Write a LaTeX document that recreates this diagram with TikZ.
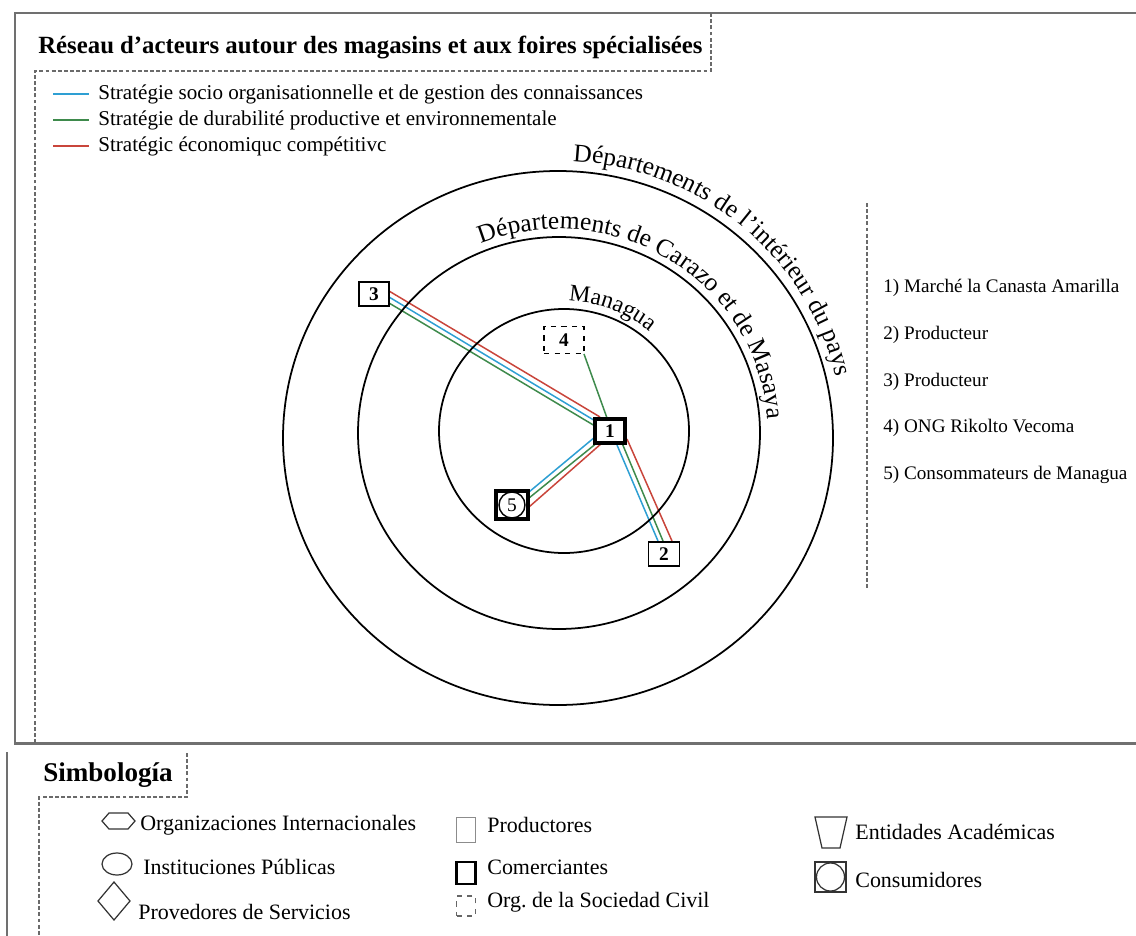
\documentclass[tikz,border=0pt]{standalone}
\usepackage{fontspec}
\setmainfont{Liberation Serif}
\usetikzlibrary{decorations.text,backgrounds}
\definecolor{sblue}{HTML}{2E9FD3}
\definecolor{sgreen}{HTML}{3E8A4C}
\definecolor{sred}{HTML}{C9453B}
\definecolor{framegray}{HTML}{707070}
\definecolor{dashgray}{HTML}{6A6A6A}
\frenchspacing
\begin{document}
\begin{tikzpicture}[x=0.02cm,y=-0.02cm,
  frame/.style={draw=framegray, line width=1.7pt},
  dashline/.style={draw=dashgray, line width=1pt, dash pattern=on 2.2pt off 1.3pt},
  ring/.style={draw=black, line width=1pt},
  box/.style={draw=black, fill=white, inner sep=0pt, line width=0.8pt, minimum width=0.6cm, minimum height=0.48cm, font=\fontsize{11}{12}\selectfont\bfseries},
  combox/.style={box, line width=1.8pt},
  orgbox/.style={box, dashed},
  strat/.style={line width=0.85pt},
  swatch/.style={line width=1.4pt},
  legtxt/.style={anchor=west, inner sep=0pt, font=\fontsize{12}{14}\selectfont},
  idtxt/.style={anchor=west, inner sep=0pt, font=\fontsize{10.9}{12}\selectfont},
  symtxt/.style={anchor=west, inner sep=0pt, font=\fontsize{12.5}{15}\selectfont},
  sym/.style={draw=black!80, line width=0.7pt},
  arclabel/.style={decorate, decoration={text along path, text align=left, text={|\fontsize{14.5}{16}\selectfont|#1}}},
  smallarclabel/.style={decorate, decoration={text along path, text align=left, text={|\fontsize{13.5}{15}\selectfont|#1}}}
]
\useasboundingbox (0,0) rectangle (1136,936);
\begin{pgfonlayer}{background}
\fill[white] (0,0) rectangle (1136,936);
\end{pgfonlayer}

% frames
\draw[frame] (15,13) rectangle (1160,743);
\draw[frame] (7,752) -- (7,945);

% title and its dashed box
\draw[dashline] (35,743) -- (35,71) -- (711,71) -- (711,13);
\node[anchor=base west, inner sep=0pt, font=\fontsize{14.1}{16}\selectfont\bfseries] (title) at (38,54) {Réseau d’acteurs autour des magasins et aux foires spécialisées};

% strategy legend
\draw[sblue, swatch] (53,94) -- (89,94);
\node[legtxt] (lb) at (98,94) {Stratégie socio organisationnelle et de gestion des connaissances};
\draw[sgreen, swatch] (53,120) -- (89,120);
\node[legtxt] (lg) at (98,120) {Stratégie de durabilité productive et environnementale};
\draw[sred, swatch] (53,146) -- (89,146);
\node[legtxt] (lr) at (98,146) {Stratégic économiquc compétitivc};

% rings
\draw[ring] (558,438) ellipse [x radius=275, y radius=267];
\draw[ring] (559,433) ellipse [x radius=201, y radius=196];
\draw[ring] (564,431) ellipse [x radius=125, y radius=122];

% ring labels
\path[arclabel={Départements de l'intérieur du pays}] (558,438) ++(-87:285 and 277) arc[start angle=-87, end angle=25, x radius=285, y radius=277];
\path[arclabel={Départements de Carazo et de Masaya}] (559,433) ++(-112:209 and 204) arc[start angle=-112, end angle=20, x radius=209, y radius=204];
\path[smallarclabel={Managua}] (564,431) ++(-88:133 and 130) arc[start angle=-88, end angle=-20, x radius=133, y radius=130];

% actors
\node[combox] (n1) at (610,431) {1};
\node[box, minimum width=0.62cm] (n2) at (664,554) {2};
\node[box] (n3) at (374,294) {3};
\node[orgbox, minimum width=0.8cm, minimum height=0.54cm] (n4) at (564,340) {4};
\node[combox, minimum width=0.64cm, minimum height=0.56cm, font=\fontsize{11}{12}\selectfont] (n5) at (512,505) {5};
\draw[line width=0.8pt] (n5.center) circle [radius=13];

% connectors
\begin{pgfonlayer}{background}
\draw[sred, strat]   ([shift={(15,-3)}]n3.center) -- ([shift={(-10,-14)}]n1.center);
\draw[sblue, strat]  ([shift={(15,3)}]n3.center)  -- ([shift={(-13,-9)}]n1.center);
\draw[sgreen, strat] ([shift={(15,9)}]n3.center)  -- ([shift={(-15,-5)}]n1.center);
\draw[sgreen, strat] ([shift={(20,14)}]n4.center) -- ([shift={(-3,-13)}]n1.center);
\draw[sblue, strat]  ([shift={(-15,6)}]n1.center)  -- ([shift={(17,-13)}]n5.center);
\draw[sgreen, strat] ([shift={(-12,11)}]n1.center) -- ([shift={(17,-7)}]n5.center);
\draw[sred, strat]   ([shift={(-8,12)}]n1.center)  -- ([shift={(17,2)}]n5.center);
\draw[sblue, strat]  ([shift={(7,14)}]n1.center)  -- ([shift={(-6,-13)}]n2.center);
\draw[sgreen, strat] ([shift={(12,12)}]n1.center) -- ([shift={(-1,-13)}]n2.center);
\draw[sred, strat]   ([shift={(17,8)}]n1.center)  -- ([shift={(8,-13)}]n2.center);
\end{pgfonlayer}

% actor list
\draw[dashline] (867,203) -- (867,588);
\node[idtxt] (i1) at (883,288) {1) Marché la Canasta Amarilla};
\node[idtxt] (i2) at (883,335) {2) Producteur};
\node[idtxt] (i3) at (883,382) {3) Producteur};
\node[idtxt] (i4) at (883,428) {4) ONG Rikolto Vecoma};
\node[idtxt] (i5) at (883,475) {5) Consommateurs de Managua};

% symbology
\node[anchor=base west, inner sep=0pt, font=\fontsize{15.4}{18}\selectfont\bfseries] (simb) at (43,781) {Simbología};
\draw[dashline] (187,753) -- (187,797) -- (39,797) -- (39,945);

\draw[sym] (102,821) -- (109,813) -- (128,813) -- (135,821) -- (128,829) -- (109,829) -- cycle;
\node[symtxt] (s1) at (140,825) {Organizaciones Internacionales};
\draw[sym] (117,864) ellipse [x radius=15, y radius=11];
\node[symtxt] (s2) at (143,867) {Instituciones Públicas};
\draw[sym] (98,901) -- (114,882) -- (130,901) -- (114,920) -- cycle;
\node[symtxt] (s3) at (138,912) {Provedores de Servicios};

\node[draw=black!45, line width=0.7pt, inner sep=0pt, minimum width=0.38cm, minimum height=0.5cm] (q1) at (466,830) {};
\node[symtxt] (s4) at (487,825) {Productores};
\node[draw=black, line width=1.5pt, inner sep=0pt, minimum width=0.38cm, minimum height=0.44cm] (q2) at (466,873) {};
\node[symtxt] (s5) at (487,867) {Comerciantes};
\node[draw=black!60, dashed, line width=0.6pt, inner sep=0pt, minimum width=0.38cm, minimum height=0.4cm] (q3) at (466,906) {};
\node[symtxt] (s6) at (487,902) {Org. de la Sociedad Civil};

\draw[sym] (815,817) -- (847,817) -- (840,848) -- (822,848) -- cycle;
\node[symtxt] (s7) at (855,832) {Entidades Académicas};
\draw[sym] (815,862) rectangle (846,892);
\draw[sym] (830.5,877) circle [radius=14];
\node[symtxt] (s8) at (855,880) {Consumidores};
\end{tikzpicture}
\end{document}
